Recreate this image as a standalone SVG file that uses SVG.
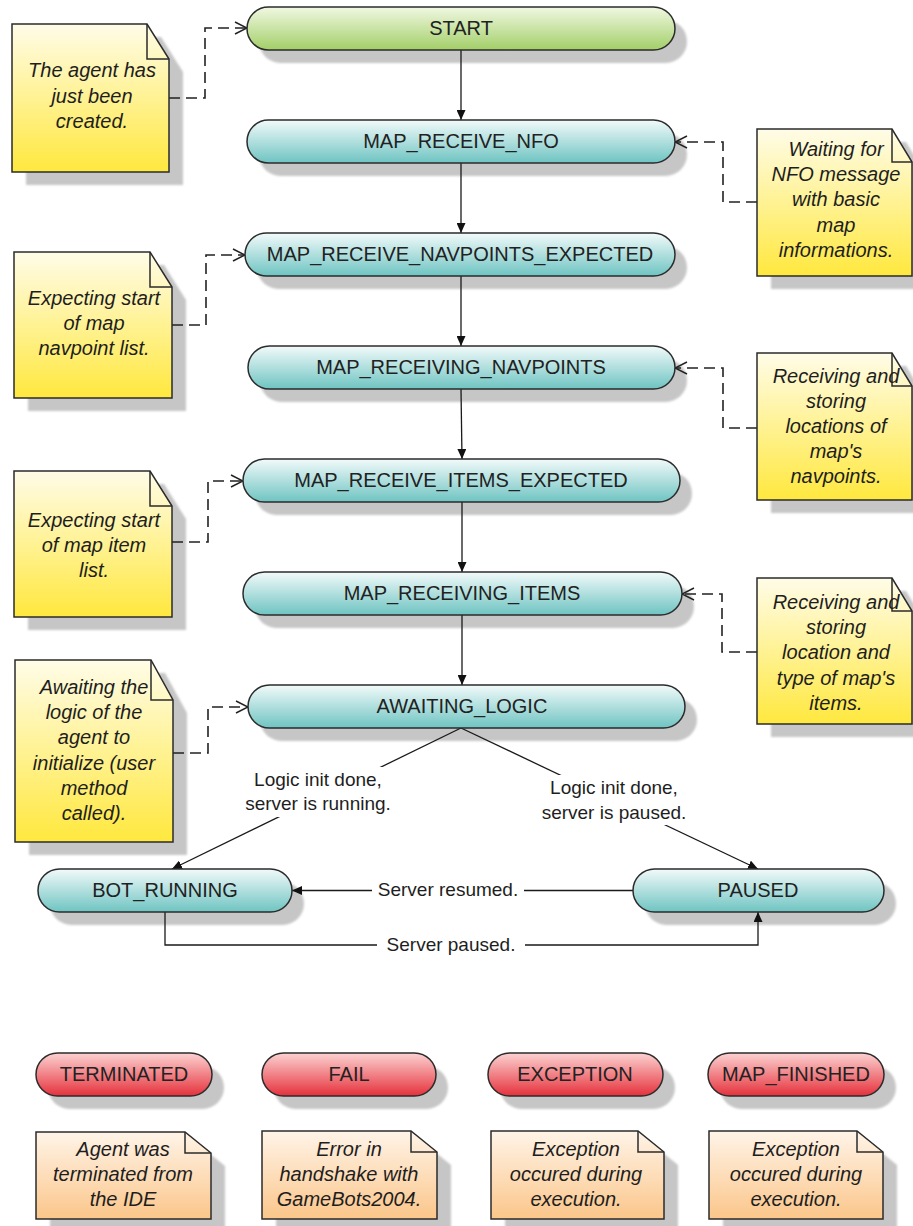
<svg xmlns="http://www.w3.org/2000/svg" width="913" height="1226" viewBox="0 0 913 1226">
  <defs>
    <linearGradient id="gGreen" x1="0" y1="0" x2="0" y2="1">
      <stop offset="0" stop-color="#f0f8e2"/>
      <stop offset="1" stop-color="#a3cf68"/>
    </linearGradient>
    <linearGradient id="gCyan" x1="0" y1="0" x2="0" y2="1">
      <stop offset="0" stop-color="#f2fafa"/>
      <stop offset="1" stop-color="#6ec4c2"/>
    </linearGradient>
    <linearGradient id="gRed" x1="0" y1="0" x2="0" y2="1">
      <stop offset="0" stop-color="#fcd2d2"/>
      <stop offset="1" stop-color="#e5313b"/>
    </linearGradient>
    <linearGradient id="gYellow" x1="0" y1="0" x2="0" y2="1">
      <stop offset="0" stop-color="#fffce8"/>
      <stop offset="1" stop-color="#ffe83e"/>
    </linearGradient>
    <linearGradient id="gOrange" x1="0" y1="0" x2="0" y2="1">
      <stop offset="0" stop-color="#fff4e8"/>
      <stop offset="1" stop-color="#fbc68a"/>
    </linearGradient>
    <filter id="soft" x="-10%" y="-10%" width="120%" height="120%">
      <feGaussianBlur stdDeviation="1.2"/>
    </filter>
    <marker id="solid" viewBox="0 0 10 9" refX="10" refY="4.5" markerWidth="10" markerHeight="9" markerUnits="userSpaceOnUse" orient="auto">
      <path d="M0,0 L10,4.5 L0,9 Z" fill="#111"/>
    </marker>
    <marker id="open" viewBox="0 0 14 14" refX="13" refY="7" markerWidth="14" markerHeight="14" markerUnits="userSpaceOnUse" orient="auto">
      <path d="M1,1 L13,7 L1,13" fill="none" stroke="#222" stroke-width="1.5"/>
    </marker>
  </defs>
  <style>
    .state { stroke: #2b2b2b; stroke-width: 1.5; }
    .shadow { fill: #c6c6c6; filter: url(#soft); }
    .note { stroke: #2b2b2b; stroke-width: 1.5; }
    .fold { fill: none; stroke: #2b2b2b; stroke-width: 1.5; }
    .lbl { font-family: "Liberation Sans", Arial, sans-serif; font-size: 20px; fill: #222; text-anchor: middle; }
    .ntxt { font-family: "Liberation Sans", Arial, sans-serif; font-size: 20px; font-style: italic; fill: #1e1e1e; text-anchor: middle; }
    .etxt { font-family: "Liberation Sans", Arial, sans-serif; font-size: 19px; fill: #1e1e1e; text-anchor: middle; }
    .flow { fill: none; stroke: #1a1a1a; stroke-width: 1.3; }
    .dash { fill: none; stroke: #222; stroke-width: 1.6; stroke-dasharray: 11 6; }
    .bg { fill: #ffffff; }
  </style>

  <!-- drop shadows -->
  <g id="shadows">
    <rect class="shadow" x="259" y="20" width="428" height="43" rx="21.5"/>
    <rect class="shadow" x="259" y="133" width="428" height="43" rx="21.5"/>
    <rect class="shadow" x="257" y="246" width="430" height="43" rx="21.5"/>
    <rect class="shadow" x="260" y="359" width="427" height="43" rx="21.5"/>
    <rect class="shadow" x="255" y="472" width="437" height="43" rx="21.5"/>
    <rect class="shadow" x="255" y="585" width="439" height="43" rx="21.5"/>
    <rect class="shadow" x="260" y="698" width="437" height="43" rx="21.5"/>
    <rect class="shadow" x="50" y="882" width="254" height="43" rx="21.5"/>
    <rect class="shadow" x="645" y="882" width="251" height="43" rx="21.5"/>
    <rect class="shadow" x="48" y="1066" width="176" height="43" rx="21.5"/>
    <rect class="shadow" x="274" y="1066" width="174" height="43" rx="21.5"/>
    <rect class="shadow" x="500" y="1066" width="175" height="43" rx="21.5"/>
    <rect class="shadow" x="720" y="1066" width="176" height="43" rx="21.5"/>
    <path class="shadow" d="M26,37 H161 L183,72 V185 H26 Z"/>
    <path class="shadow" d="M28,265 H164 L186,300 V411 H28 Z"/>
    <path class="shadow" d="M28,484 H164 L186,519 V630 H28 Z"/>
    <path class="shadow" d="M29,673 H165 L187,713 V855 H29 Z"/>
    <path class="shadow" d="M771,142 H906 L926,175 V289 H771 Z"/>
    <path class="shadow" d="M771,366 H906 L926,399 V513 H771 Z"/>
    <path class="shadow" d="M771,591 H906 L926,624 V737 H771 Z"/>
    <path class="shadow" d="M50,1145 H199 L225,1166 V1240 H50 Z"/>
    <path class="shadow" d="M276,1144 H425 L451,1165 V1240 H276 Z"/>
    <path class="shadow" d="M505,1144 H652 L678,1165 V1240 H505 Z"/>
    <path class="shadow" d="M723,1144 H871 L897,1165 V1240 H723 Z"/>
  </g>

  <!-- transitions and note links -->
  <g id="connectors">
    <line class="flow" x1="461" y1="50" x2="461" y2="120" marker-end="url(#solid)"/>
    <line class="flow" x1="461" y1="163" x2="461" y2="233" marker-end="url(#solid)"/>
    <line class="flow" x1="461" y1="276" x2="461" y2="346" marker-end="url(#solid)"/>
    <line class="flow" x1="461" y1="389" x2="462" y2="459" marker-end="url(#solid)"/>
    <line class="flow" x1="462" y1="502" x2="462" y2="572" marker-end="url(#solid)"/>
    <line class="flow" x1="462" y1="615" x2="462" y2="685" marker-end="url(#solid)"/>
    <line class="flow" x1="461" y1="728" x2="172" y2="869" marker-end="url(#solid)"/>
    <line class="flow" x1="461" y1="728" x2="758" y2="869" marker-end="url(#solid)"/>
    <line class="flow" x1="633" y1="890.5" x2="292" y2="890.5" marker-end="url(#solid)"/>
    <path class="flow" d="M165,912 V945 H758 V912" marker-end="url(#solid)"/>

    <path class="dash" d="M169,98 H205 V28 H247" marker-end="url(#open)"/>
    <path class="dash" d="M172,325 H206 V255 H245" marker-end="url(#open)"/>
    <path class="dash" d="M172,542 H208 V481 H243" marker-end="url(#open)"/>
    <path class="dash" d="M173,753 H208 V707 H248" marker-end="url(#open)"/>
    <path class="dash" d="M757,202 H723 V142 H675" marker-end="url(#open)"/>
    <path class="dash" d="M757,428 H723 V368 H675" marker-end="url(#open)"/>
    <path class="dash" d="M757,652 H722 V594 H682" marker-end="url(#open)"/>

    <rect class="bg" x="246" y="767" width="146" height="50"/>
    <text class="etxt" x="318" y="786">Logic init done,</text>
    <text class="etxt" x="318" y="810">server is running.</text>
    <rect class="bg" x="546" y="775" width="138" height="50"/>
    <text class="etxt" x="614" y="794">Logic init done,</text>
    <text class="etxt" x="614" y="819">server is paused.</text>
    <rect class="bg" x="372" y="878" width="152" height="24"/>
    <text class="etxt" x="448" y="896">Server resumed.</text>
    <rect class="bg" x="377" y="933" width="148" height="24"/>
    <text class="etxt" x="451" y="951">Server paused.</text>
  </g>

  <!-- states -->
  <g id="start">
    <rect class="state" x="247" y="7" width="428" height="43" rx="21.5" fill="url(#gGreen)"/>
    <text class="lbl" x="461" y="35">START</text>
  </g>
  <g id="map-receive-nfo">
    <rect class="state" x="247" y="120" width="428" height="43" rx="21.5" fill="url(#gCyan)"/>
    <text class="lbl" x="461" y="148">MAP_RECEIVE_NFO</text>
  </g>
  <g id="map-receive-navpoints-expected">
    <rect class="state" x="245" y="233" width="430" height="43" rx="21.5" fill="url(#gCyan)"/>
    <text class="lbl" x="460" y="261">MAP_RECEIVE_NAVPOINTS_EXPECTED</text>
  </g>
  <g id="map-receiving-navpoints">
    <rect class="state" x="248" y="346" width="427" height="43" rx="21.5" fill="url(#gCyan)"/>
    <text class="lbl" x="461" y="374">MAP_RECEIVING_NAVPOINTS</text>
  </g>
  <g id="map-receive-items-expected">
    <rect class="state" x="243" y="459" width="437" height="43" rx="21.5" fill="url(#gCyan)"/>
    <text class="lbl" x="461" y="487">MAP_RECEIVE_ITEMS_EXPECTED</text>
  </g>
  <g id="map-receiving-items">
    <rect class="state" x="243" y="572" width="439" height="43" rx="21.5" fill="url(#gCyan)"/>
    <text class="lbl" x="462" y="600">MAP_RECEIVING_ITEMS</text>
  </g>
  <g id="awaiting-logic">
    <rect class="state" x="248" y="685" width="437" height="43" rx="21.5" fill="url(#gCyan)"/>
    <text class="lbl" x="462" y="713">AWAITING_LOGIC</text>
  </g>
  <g id="bot-running">
    <rect class="state" x="38" y="869" width="254" height="43" rx="21.5" fill="url(#gCyan)"/>
    <text class="lbl" x="165" y="897">BOT_RUNNING</text>
  </g>
  <g id="paused">
    <rect class="state" x="633" y="869" width="251" height="43" rx="21.5" fill="url(#gCyan)"/>
    <text class="lbl" x="758" y="897">PAUSED</text>
  </g>
  <g id="terminated">
    <rect class="state" x="36" y="1053" width="176" height="43" rx="21.5" fill="url(#gRed)"/>
    <text class="lbl" x="124" y="1081">TERMINATED</text>
  </g>
  <g id="fail">
    <rect class="state" x="262" y="1053" width="174" height="43" rx="21.5" fill="url(#gRed)"/>
    <text class="lbl" x="349" y="1081">FAIL</text>
  </g>
  <g id="exception">
    <rect class="state" x="488" y="1053" width="175" height="43" rx="21.5" fill="url(#gRed)"/>
    <text class="lbl" x="575" y="1081">EXCEPTION</text>
  </g>
  <g id="map-finished">
    <rect class="state" x="708" y="1053" width="176" height="43" rx="21.5" fill="url(#gRed)"/>
    <text class="lbl" x="796" y="1081">MAP_FINISHED</text>
  </g>

  <!-- notes -->
  <g id="note-start">
    <path class="note" d="M12,24 H147 L169,59 V172 H12 Z" fill="url(#gYellow)"/>
    <path class="fold" d="M147,24 V59 H169"/>
    <text class="ntxt" x="92" y="77">The agent has</text>
    <text class="ntxt" x="92" y="103">just been</text>
    <text class="ntxt" x="92" y="128">created.</text>
  </g>
  <g id="note-nfo">
    <path class="note" d="M757,129 H892 L912,162 V276 H757 Z" fill="url(#gYellow)"/>
    <path class="fold" d="M892,129 V162 H912"/>
    <text class="ntxt" x="836" y="156">Waiting for</text>
    <text class="ntxt" x="836" y="181">NFO message</text>
    <text class="ntxt" x="836" y="206">with basic</text>
    <text class="ntxt" x="836" y="232">map</text>
    <text class="ntxt" x="836" y="257">informations.</text>
  </g>
  <g id="note-navpoints-expected">
    <path class="note" d="M14,252 H150 L172,287 V398 H14 Z" fill="url(#gYellow)"/>
    <path class="fold" d="M150,252 V287 H172"/>
    <text class="ntxt" x="94" y="305">Expecting start</text>
    <text class="ntxt" x="94" y="330">of map</text>
    <text class="ntxt" x="94" y="355">navpoint list.</text>
  </g>
  <g id="note-receiving-navpoints">
    <path class="note" d="M757,353 H892 L912,386 V500 H757 Z" fill="url(#gYellow)"/>
    <path class="fold" d="M892,353 V386 H912"/>
    <text class="ntxt" x="836" y="383">Receiving and</text>
    <text class="ntxt" x="836" y="408">storing</text>
    <text class="ntxt" x="836" y="433">locations of</text>
    <text class="ntxt" x="836" y="458">map's</text>
    <text class="ntxt" x="836" y="483">navpoints.</text>
  </g>
  <g id="note-items-expected">
    <path class="note" d="M14,471 H150 L172,506 V617 H14 Z" fill="url(#gYellow)"/>
    <path class="fold" d="M150,471 V506 H172"/>
    <text class="ntxt" x="94" y="527">Expecting start</text>
    <text class="ntxt" x="94" y="552">of map item</text>
    <text class="ntxt" x="94" y="577">list.</text>
  </g>
  <g id="note-receiving-items">
    <path class="note" d="M757,578 H892 L912,611 V724 H757 Z" fill="url(#gYellow)"/>
    <path class="fold" d="M892,578 V611 H912"/>
    <text class="ntxt" x="836" y="609">Receiving and</text>
    <text class="ntxt" x="836" y="634">storing</text>
    <text class="ntxt" x="836" y="659">location and</text>
    <text class="ntxt" x="836" y="685">type of map's</text>
    <text class="ntxt" x="836" y="710">items.</text>
  </g>
  <g id="note-awaiting-logic">
    <path class="note" d="M15,660 H151 L173,700 V842 H15 Z" fill="url(#gYellow)"/>
    <path class="fold" d="M151,660 V700 H173"/>
    <text class="ntxt" x="94" y="694">Awaiting the</text>
    <text class="ntxt" x="94" y="719">logic of the</text>
    <text class="ntxt" x="94" y="744">agent to</text>
    <text class="ntxt" x="94" y="770">initialize (user</text>
    <text class="ntxt" x="94" y="795">method</text>
    <text class="ntxt" x="94" y="820">called).</text>
  </g>
  <g id="note-terminated">
    <path class="note" d="M36,1132 H185 L211,1153 V1219 H36 Z" fill="url(#gOrange)"/>
    <path class="fold" d="M185,1132 V1153 H211"/>
    <text class="ntxt" x="123" y="1156">Agent was</text>
    <text class="ntxt" x="123" y="1181">terminated from</text>
    <text class="ntxt" x="123" y="1206">the IDE</text>
  </g>
  <g id="note-fail">
    <path class="note" d="M262,1131 H411 L437,1152 V1219 H262 Z" fill="url(#gOrange)"/>
    <path class="fold" d="M411,1131 V1152 H437"/>
    <text class="ntxt" x="349" y="1156">Error in</text>
    <text class="ntxt" x="349" y="1181">handshake with</text>
    <text class="ntxt" x="349" y="1206">GameBots2004.</text>
  </g>
  <g id="note-exception">
    <path class="note" d="M491,1131 H638 L664,1152 V1219 H491 Z" fill="url(#gOrange)"/>
    <path class="fold" d="M638,1131 V1152 H664"/>
    <text class="ntxt" x="576" y="1156">Exception</text>
    <text class="ntxt" x="576" y="1181">occured during</text>
    <text class="ntxt" x="576" y="1206">execution.</text>
  </g>
  <g id="note-map-finished">
    <path class="note" d="M709,1131 H857 L883,1152 V1219 H709 Z" fill="url(#gOrange)"/>
    <path class="fold" d="M857,1131 V1152 H883"/>
    <text class="ntxt" x="796" y="1156">Exception</text>
    <text class="ntxt" x="796" y="1181">occured during</text>
    <text class="ntxt" x="796" y="1206">execution.</text>
  </g>
</svg>
